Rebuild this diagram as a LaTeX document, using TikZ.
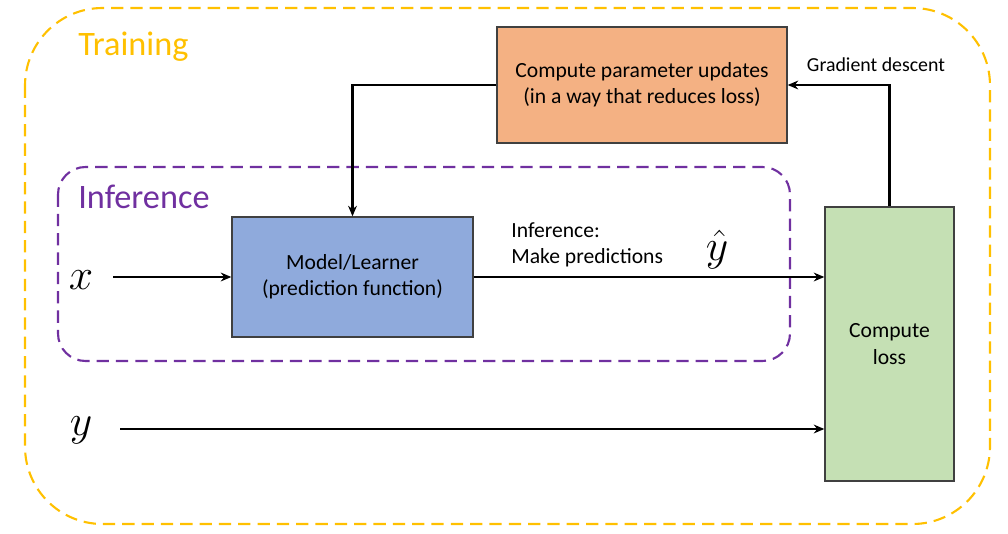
\documentclass[tikz,border=0pt]{standalone}
\usepackage{fontspec}
\setmainfont{Carlito}
\usetikzlibrary{arrows.meta}
\definecolor{traincol}{HTML}{FFC000}
\definecolor{infcol}{HTML}{7030A0}
\definecolor{updcol}{HTML}{F4B183}
\definecolor{modelcol}{HTML}{8FAADC}
\definecolor{losscol}{HTML}{C5E0B4}
\tikzset{
  box/.style={draw=black!75, line width=0.8pt, align=center, inner sep=0pt},
  flow/.style={-{Stealth[length=6pt,width=5pt]}, line width=1.3pt},
  txt/.style={font=\fontsize{12.3}{15}\selectfont, align=left},
  region/.style={font=\fontsize{19.5}{20}\selectfont, anchor=west, inner sep=0pt},
  var/.style={font=\fontsize{29}{29}\selectfont, inner sep=0pt}
}
\begin{document}
\begin{tikzpicture}[x=0.02cm, y=-0.02cm]
      \useasboundingbox (0,0) rectangle (1008,534);
      % outer and inner regions
      \draw[traincol, dashed, dash pattern=on 7pt off 4pt, line width=1.2pt, rounded corners=1.55cm]
        (25,8) rectangle (990,524);
      \draw[infcol, dashed, dash pattern=on 7pt off 4pt, line width=1.2pt, rounded corners=0.55cm]
        (58,167) rectangle (790,361);
      \draw
        (78,47) node[region, text=traincol] (train){Training}
        (78,197) node[region, text=infcol] (inf){Inference};
      % boxes
      \draw
        (642,85) node[box, fill=updcol, minimum width=5.8cm, minimum height=2.32cm, txt, align=center] (update){Compute parameter updates\\(in a way that reduces loss)}
        (352.5,277) node[box, fill=modelcol, minimum width=4.82cm, minimum height=2.4cm, txt, align=center] (model){Model/Learner\\(prediction function)}
        (889.5,344) node[box, fill=losscol, minimum width=2.58cm, minimum height=5.48cm, txt, align=center] (loss){Compute\\loss};
      % inputs and labels
      \draw
        (81,280) node[var] (x){$x$}
        (81,430) node[var] (y){$y$}
        (717,250) node[var] (yhat){$\hat{y}$}
        (511,245) node[anchor=west, txt, inner sep=0pt] (pred){Inference:\\Make predictions}
        (876,65) node[txt, font=\fontsize{11.3}{14}\selectfont] (grad){Gradient descent};
      \coordinate (xs) at (113,277);
      \coordinate (ys) at (120,429);
      \begin{scope}[flow]
        \draw (xs) -- (model.west);
        \draw (model.east) -- (loss.west |- model.east);
        \draw (ys) -- (loss.west |- ys);
        \draw (loss.north) |- (update.east);
        \draw (update.west) -| (model.north);
      \end{scope}
    \end{tikzpicture}
\end{document}
